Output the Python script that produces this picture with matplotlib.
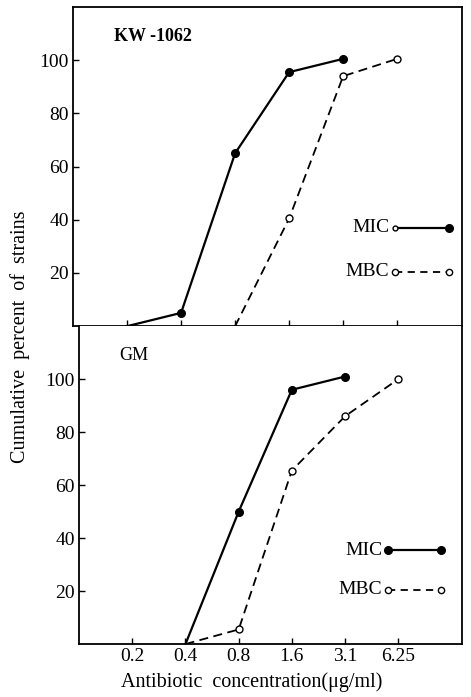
import matplotlib
matplotlib.use("Agg")
import matplotlib.pyplot as plt

plt.rcParams['font.family'] = ['Liberation Serif', 'DejaVu Serif']

# concentrations (ug/ml) shown as equally spaced categories
conc_labels = ["0.2", "0.4", "0.8", "1.6", "3.1", "6.25"]
conc_pos = [1, 2, 3, 4, 5, 6]

# KW-1062 panel
kw_mic_x = [1, 2, 3, 4, 5]
kw_mic_y = [0, 5, 65, 95.5, 100.5]
kw_mbc_x = [3, 4, 5, 6]
kw_mbc_y = [0, 40.5, 94, 100.5]

# GM panel
gm_mic_x = [2, 3, 4, 5]
gm_mic_y = [0, 50, 96, 101]
gm_mbc_x = [2, 3, 4, 5, 6]
gm_mbc_y = [0, 5.5, 65.5, 86, 100]

yticks = [20, 40, 60, 80, 100]

fig = plt.figure(figsize=(4.71, 6.97), dpi=100)
ax1 = fig.add_axes([0.155, 0.532, 0.826, 0.458])
ax2 = fig.add_axes([0.168, 0.076, 0.813, 0.456])


def style(ax):
    ax.set_xlim(0, 7.2)
    ax.set_ylim(0, 120)
    ax.set_yticks(yticks)
    ax.set_xticks(conc_pos)
    ax.tick_params(direction="in", length=4, width=1, labelsize=14, pad=3)
    for s in ax.spines.values():
        s.set_linewidth(1.3)


# top panel
style(ax1)
ax1.set_xticklabels([])
ax1.plot(kw_mic_x, kw_mic_y, "-", color="black", lw=1.6)
ax1.plot(kw_mic_x[1:], kw_mic_y[1:], "o", color="black", ms=5.5)
ax1.plot(kw_mbc_x, kw_mbc_y, "--", color="black", lw=1.3, dashes=(5, 3))
ax1.plot(kw_mbc_x[1:], kw_mbc_y[1:], "o", mfc="white", mec="black", ms=5)
ax1.text(0.75, 109, "KW -1062", fontsize=13, fontweight="bold", va="center")
# legend
ax1.plot([5.95, 6.95], [37, 37], "-", color="black", lw=1.6)
ax1.plot([5.95], [37], "o", mfc="white", mec="black", ms=3.5)
ax1.plot([6.95], [37], "o", color="black", ms=5.5)
ax1.text(5.85, 37, "MIC", fontsize=14, ha="right", va="center")
ax1.plot([5.95, 6.95], [20.5, 20.5], "--", color="black", lw=1.3, dashes=(4, 3))
ax1.plot([5.95, 6.95], [20.5, 20.5], "o", mfc="white", mec="black", ms=4.5)
ax1.text(5.85, 20.5, "MBC", fontsize=14, ha="right", va="center")

# bottom panel
style(ax2)
ax2.spines["top"].set_visible(False)
ax2.set_xticklabels(conc_labels)
ax2.plot(gm_mic_x, gm_mic_y, "-", color="black", lw=1.6)
ax2.plot(gm_mic_x[1:], gm_mic_y[1:], "o", color="black", ms=5.5)
ax2.plot(gm_mbc_x, gm_mbc_y, "--", color="black", lw=1.3, dashes=(5, 3))
ax2.plot(gm_mbc_x[1:], gm_mbc_y[1:], "o", mfc="white", mec="black", ms=5)
ax2.text(0.75, 109, "GM", fontsize=13, va="center")
ax2.plot([5.8, 6.8], [35.5, 35.5], "-o", color="black", lw=1.6, ms=5.5)
ax2.text(5.7, 35.5, "MIC", fontsize=14, ha="right", va="center")
ax2.plot([5.8, 6.8], [20.5, 20.5], "--", color="black", lw=1.3, dashes=(4, 3))
ax2.plot([5.8, 6.8], [20.5, 20.5], "o", mfc="white", mec="black", ms=4.5)
ax2.text(5.7, 20.5, "MBC", fontsize=14, ha="right", va="center")

fig.text(0.535, 0.021, "Antibiotic  concentration(\u03bcg/ml)", fontsize=14.5,
         ha="center", va="center")
fig.text(0.042, 0.517, "Cumulative  percent  of  strains", rotation=90,
         fontsize=14.5, ha="center", va="center")

plt.savefig("out.png", dpi=100)
